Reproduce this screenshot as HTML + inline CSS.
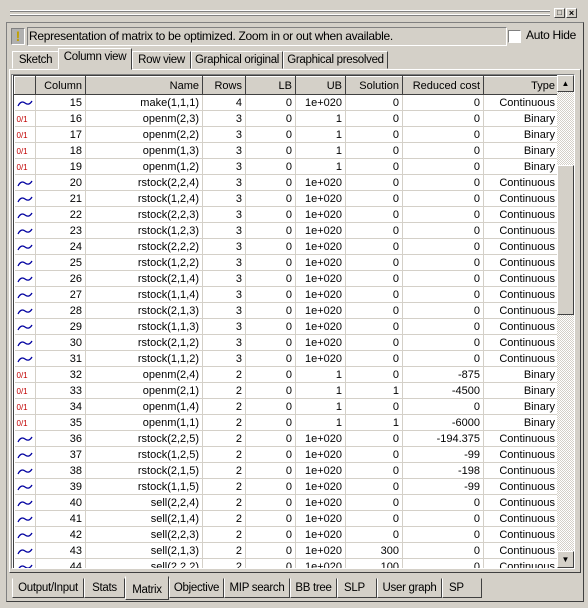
<!DOCTYPE html>
<html><head><meta charset="utf-8"><style>
body{margin:0;width:588px;height:608px;background:#d4d0c8;font-family:"Liberation Sans",sans-serif;font-size:11px;position:relative;overflow:hidden}
.a{position:absolute;box-sizing:border-box}
.raised{border:1px solid;border-color:#fff #404040 #404040 #fff;background:#d4d0c8}
.sunk{border:1px solid;border-color:#808080 #fff #fff #808080}
table{border-collapse:collapse;table-layout:fixed;font-size:11px}
td{height:16px;padding:0 3px;border-right:1px solid #d4d0c8;border-bottom:1px solid #d4d0c8;text-align:right;white-space:nowrap;overflow:hidden;box-sizing:border-box}
th{height:18px;font-weight:normal;text-align:right;padding:0 3px;background:#d4d0c8;border:1px solid;border-color:#fff #404040 #404040 #fff;box-sizing:border-box;white-space:nowrap;overflow:hidden}
.ic{text-align:left;padding-left:2px}
.b{color:#c00000;font-size:8px}
.tab{position:absolute;box-sizing:border-box;border:1px solid;border-color:#fff #404040 #d4d0c8 #fff;text-align:center;font-size:11.5px;line-height:16px;white-space:nowrap;overflow:hidden;letter-spacing:-0.3px}
.bt{position:absolute;box-sizing:border-box;border:1px solid;border-color:#d4d0c8 #404040 #404040 #fff;text-align:center;font-size:11.5px;line-height:18px;white-space:nowrap;overflow:hidden;letter-spacing:-0.3px}
</style></head><body>
<div class="a" style="left:10px;top:10px;width:540px;height:2px;border-top:1px solid #fff;border-bottom:1px solid #808080"></div>
<div class="a" style="left:10px;top:14px;width:540px;height:2px;border-top:1px solid #fff;border-bottom:1px solid #808080"></div>
<div class="a raised" style="left:554px;top:8px;width:11px;height:10px;font-size:8px;line-height:8px;text-align:center">□</div>
<div class="a raised" style="left:566px;top:8px;width:11px;height:10px;font-size:9px;line-height:8px;text-align:center;font-weight:bold">×</div>
<div class="a" style="left:6px;top:22px;width:578px;height:580px;border:1px solid;border-color:#808080 #404040 #404040 #808080"></div>
<div class="a sunk" style="left:11px;top:28px;width:14px;height:17px;background:#b0b0b0;color:#c0a000;font-weight:bold;font-size:14px;text-align:center;line-height:15px">!</div>
<div class="a sunk" style="left:27px;top:27px;width:480px;height:19px;font-size:12px;line-height:17px;padding-left:1px;white-space:nowrap;overflow:hidden;letter-spacing:-0.3px">Representation of matrix to be optimized. Zoom in or out when available.</div>
<div class="a" style="left:508px;top:30px;width:13px;height:13px;background:#fff;border:1px solid;border-color:#808080 #fff #fff #808080"></div>
<div class="a" style="left:526px;top:28px;font-size:12px;letter-spacing:-0.3px">Auto Hide</div>
<div class="tab" style="left:12px;top:51px;width:47px;height:18px">Sketch</div>
<div class="tab" style="left:58px;top:48px;width:74px;height:22px;background:#d4d0c8;z-index:2">Column view</div>
<div class="tab" style="left:132px;top:51px;width:59px;height:18px">Row view</div>
<div class="tab" style="left:191px;top:51px;width:92px;height:18px">Graphical original</div>
<div class="tab" style="left:283px;top:51px;width:105px;height:18px">Graphical presolved</div>
<div class="a" style="left:9px;top:69px;width:572px;height:504px;border:1px solid;border-color:#fff #404040 #404040 #fff"></div>
<div class="a" style="left:11px;top:74px;width:564px;height:495px;border:1px solid;border-color:#808080 #fff #fff #808080;background:#fff;overflow:hidden">
<div style="position:absolute;left:1px;top:0;width:544px;height:493px;border-left:1px solid #404040;border-top:1px solid #404040;overflow:hidden">
<table id="t" style="width:544px">
<colgroup><col style="width:21px"><col style="width:50px"><col style="width:117px"><col style="width:43px"><col style="width:50px"><col style="width:50px"><col style="width:57px"><col style="width:81px"><col style="width:75px"></colgroup>
<thead><tr><th></th><th>Column</th><th>Name</th><th>Rows</th><th>LB</th><th>UB</th><th>Solution</th><th>Reduced cost</th><th>Type</th></tr></thead>
<tbody id="tb"></tbody></table></div>
<div class="a" style="left:545px;top:0;width:17px;height:493px;background:repeating-conic-gradient(#fff 0 25%,#d4d0c8 0 50%) 0 0/2px 2px">
<div class="a raised" style="left:0;top:0;width:17px;height:17px;font-size:8px;text-align:center;line-height:15px">▲</div>
<div class="a raised" style="left:0;top:90px;width:17px;height:150px"></div>
<div class="a raised" style="left:0;top:476px;width:17px;height:17px;font-size:8px;text-align:center;line-height:15px">▼</div>
</div></div>
<div class="bt" style="left:12px;top:578px;width:72px;height:20px">Output/Input</div>
<div class="bt" style="left:84px;top:578px;width:41px;height:20px">Stats</div>
<div class="bt" style="left:125px;top:576px;width:44px;height:24px;line-height:26px;border-top-color:#d4d0c8">Matrix</div>
<div class="bt" style="left:169px;top:578px;width:55px;height:20px">Objective</div>
<div class="bt" style="left:224px;top:578px;width:66px;height:20px">MIP search</div>
<div class="bt" style="left:290px;top:578px;width:47px;height:20px">BB tree</div>
<div class="bt" style="left:337px;top:578px;width:40px;height:20px;text-align:left;padding-left:6px">SLP</div>
<div class="bt" style="left:377px;top:578px;width:65px;height:20px">User graph</div>
<div class="bt" style="left:442px;top:578px;width:40px;height:20px;text-align:left;padding-left:6px">SP</div>
<script>
const cols=[15,16,17,18,19,20,21,22,23,24,25,26,27,28,29,30,31,32,33,34,35,36,37,38,39,40,41,42,43,44];
const names=["make(1,1,1)","openm(2,3)","openm(2,2)","openm(1,3)","openm(1,2)","rstock(2,2,4)","rstock(1,2,4)","rstock(2,2,3)","rstock(1,2,3)","rstock(2,2,2)","rstock(1,2,2)","rstock(2,1,4)","rstock(1,1,4)","rstock(2,1,3)","rstock(1,1,3)","rstock(2,1,2)","rstock(1,1,2)","openm(2,4)","openm(2,1)","openm(1,4)","openm(1,1)","rstock(2,2,5)","rstock(1,2,5)","rstock(2,1,5)","rstock(1,1,5)","sell(2,2,4)","sell(2,1,4)","sell(2,2,3)","sell(2,1,3)","sell(2,2,2)"];
const rows=[4,3,3,3,3,3,3,3,3,3,3,3,3,3,3,3,3,2,2,2,2,2,2,2,2,2,2,2,2,2];
const ub=["1e+020","1","1","1","1","1e+020","1e+020","1e+020","1e+020","1e+020","1e+020","1e+020","1e+020","1e+020","1e+020","1e+020","1e+020","1","1","1","1","1e+020","1e+020","1e+020","1e+020","1e+020","1e+020","1e+020","1e+020","1e+020"];
const sol=[0,0,0,0,0,0,0,0,0,0,0,0,0,0,0,0,0,0,1,0,1,0,0,0,0,0,0,0,300,100];
const rc=[0,0,0,0,0,0,0,0,0,0,0,0,0,0,0,0,0,-875,-4500,0,-6000,-194.375,-99,-198,-99,0,0,0,0,0];
const wave='<svg width="16" height="8" style="vertical-align:middle"><path d="M1 7 Q4 1 8 4 T15 2" fill="none" stroke="#0000a0" stroke-width="1.3"/></svg>';
const tb=document.getElementById('tb');
cols.forEach((c,i)=>{
const bin=ub[i]==="1";
const tr=document.createElement('tr');


tr.innerHTML=`<td class="ic">${bin?'<span class="b">0/1</span>':wave}</td><td>${c}</td><td>${names[i]}</td><td>${rows[i]}</td><td>0</td><td>${ub[i]}</td><td>${sol[i]}</td><td>${rc[i]}</td><td>${bin?'Binary':'Continuous'}</td>`;
tb.appendChild(tr);
});
</script>
</body></html>
